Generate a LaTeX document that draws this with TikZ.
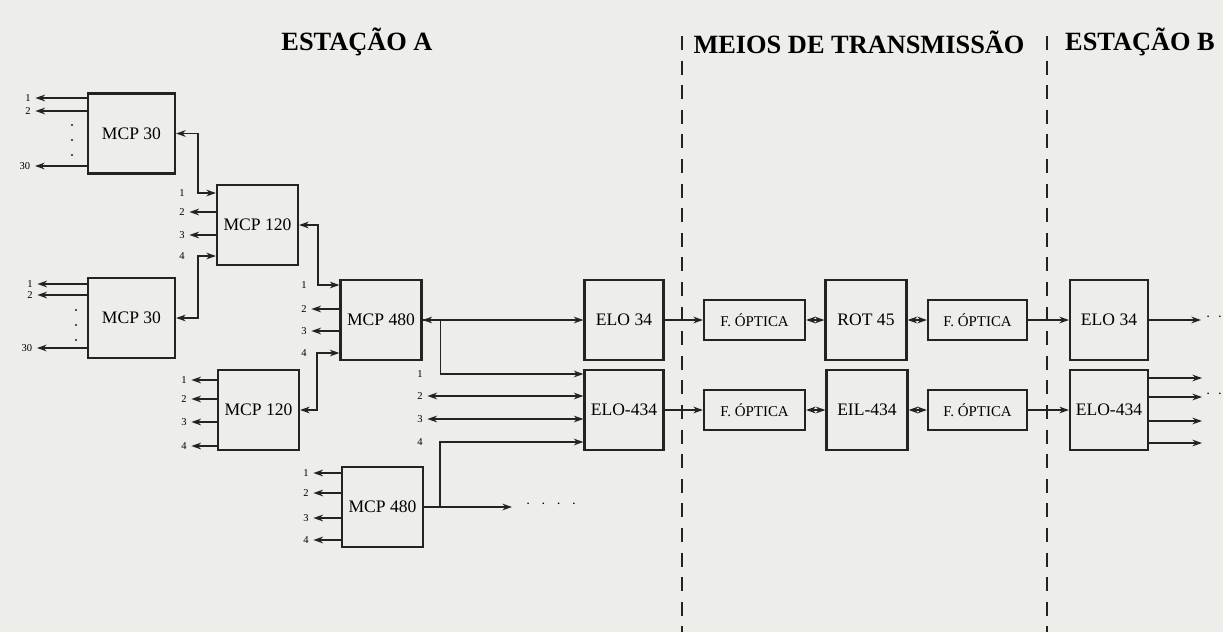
\documentclass[tikz,border=0pt]{standalone}
\usepackage{fontspec}
\setmainfont{Liberation Serif}
\usetikzlibrary{arrows.meta}
\definecolor{paper}{RGB}{237,237,233}
\definecolor{ink}{RGB}{35,35,35}

\begin{document}
\begin{tikzpicture}[
			x=0.02cm, y=-0.02cm,
			box/.style={
				rectangle,
				draw=ink,
				line width=1.2pt,
				minimum width=1.62cm,
				minimum height=1.6cm,
				inner sep=0pt,
				align=center,
				font=\fontsize{10}{12}\selectfont
			},
			fibre/.style={
				box,
				minimum width=2.02cm,
				minimum height=0.8cm,
				font=\fontsize{8.5}{10}\selectfont
			},
			num/.style={
				inner sep=0.5pt,
				font=\fontsize{6}{7}\selectfont
			},
			title/.style={
				font=\fontsize{15}{18}\selectfont\bfseries
			},
			feed/.style={
				-{Stealth[length=5.5pt,width=3.8pt]},
				draw=ink,
				line width=0.9pt
			},
			link/.style={
				{Stealth[length=5.5pt,width=3.8pt]}-{Stealth[length=5.5pt,width=3.8pt]},
				draw=ink,
				line width=0.9pt
			},
			chan/.style={
				feed,
				shorten >=2pt
			},
			border/.style={
				draw=ink,
				line width=0.7pt,
				dash pattern=on 8pt off 6pt
			}
			]
			
			\fill [paper, use as bounding box] (0,0) rectangle (1223,632);
			
			\node (titA) [title] at (357,42) {ESTAÇÃO A};
			\node (titM) [title] at (859,42) {MEIOS DE TRANSMISSÃO};
			\node (titB) [title, anchor=east] at (1221,42) {ESTAÇÃO B};
			
			\coordinate (sepA) at (682,36);
			\coordinate (sepAend) at (682,632);
			\coordinate (sepB) at (1047,36);
			\coordinate (sepBend) at (1047,632);
			\draw [border] (sepA) -- (sepAend);
			\draw [border] (sepB) -- (sepBend);
			
			\node (mcp30a) [box, minimum width=1.74cm] at (131.5,133.5) {MCP 30};
			\node (mcp120a) [box] at (257.5,225) {MCP 120};
			\node (mcp30b) [box, minimum width=1.74cm] at (131.5,318) {MCP 30};
			\node (mcp480a) [box] at (381,320) {MCP 480};
			\node (mcp120b) [box] at (258.5,410) {MCP 120};
			\node (mcp480b) [box] at (382.5,507) {MCP 480};
			\node (eloA) [box, minimum width=1.58cm] at (624,320) {ELO 34};
			\node (eloqA) [box, minimum width=1.58cm] at (624,410) {ELO-434};
			\node (fibA1) [fibre] at (754.5,320) {F. ÓPTICA};
			\node (rot) [box] at (866,320) {ROT 45};
			\node (fibA2) [fibre, minimum width=1.98cm] at (977.5,320) {F. ÓPTICA};
			\node (fibB1) [fibre] at (754.5,410) {F. ÓPTICA};
			\node (eil) [box] at (867,410) {EIL-434};
			\node (fibB2) [fibre, minimum width=1.98cm] at (977.5,410) {F. ÓPTICA};
			\node (eloB) [box, minimum width=1.56cm] at (1109,320) {ELO 34};
			\node (eloqB) [box, minimum width=1.56cm] at (1109,410) {ELO-434};
			
			\node (a30n1) [num] at (28,98) {1};
			\node (a30n2) [num] at (28,111) {2};
			\node (a30n30) [num] at (25,166) {30};
			\node (b30n1) [num] at (30,284) {1};
			\node (b30n2) [num] at (30,295) {2};
			\node (b30n30) [num] at (27,348) {30};
			\draw [chan] (mcp30a.west |- a30n1) -- (a30n1);
			\draw [chan] (mcp30a.west |- a30n2) -- (a30n2);
			\draw [chan] (mcp30a.west |- a30n30) -- (a30n30);
			\draw [chan] (mcp30b.west |- b30n1) -- (b30n1);
			\draw [chan] (mcp30b.west |- b30n2) -- (b30n2);
			\draw [chan] (mcp30b.west |- b30n30) -- (b30n30);
			\fill [ink] (72,125) circle (0.6pt) (72,140) circle (0.6pt) (72,155) circle (0.6pt);
			\fill [ink] (76,310) circle (0.6pt) (76,325) circle (0.6pt) (76,340) circle (0.6pt);
			
			\node (a120n1) [num] at (182,193) {1};
			\node (a120n2) [num] at (182,212) {2};
			\node (a120n3) [num] at (182,235) {3};
			\node (a120n4) [num] at (182,256) {4};
			\draw [link] (mcp30a.east) -- ++(22,0) |- (mcp120a.west |- a120n1);
			\draw [chan] (mcp120a.west |- a120n2) -- (a120n2);
			\draw [chan] (mcp120a.west |- a120n3) -- (a120n3);
			\draw [link] (mcp30b.east) -- ++(22,0) |- (mcp120a.west |- a120n4);
			
			\node (b120n1) [num] at (184,380) {1};
			\node (b120n2) [num] at (184,399) {2};
			\node (b120n3) [num] at (184,422) {3};
			\node (b120n4) [num] at (184,446) {4};
			\draw [chan] (mcp120b.west |- b120n1) -- (b120n1);
			\draw [chan] (mcp120b.west |- b120n2) -- (b120n2);
			\draw [chan] (mcp120b.west |- b120n3) -- (b120n3);
			\draw [chan] (mcp120b.west |- b120n4) -- (b120n4);
			
			\node (a480n1) [num] at (304,285) {1};
			\node (a480n2) [num] at (304,309) {2};
			\node (a480n3) [num] at (304,331) {3};
			\node (a480n4) [num] at (304,353) {4};
			\draw [link] (mcp120a.east) -- ++(19,0) |- (mcp480a.west |- a480n1);
			\draw [chan] (mcp480a.west |- a480n2) -- (a480n2);
			\draw [chan] (mcp480a.west |- a480n3) -- (a480n3);
			\draw [link] (mcp120b.east) -- ++(17,0) |- (mcp480a.west |- a480n4);
			
			\node (b480n1) [num] at (306,473) {1};
			\node (b480n2) [num] at (306,493) {2};
			\node (b480n3) [num] at (306,518) {3};
			\node (b480n4) [num] at (306,540) {4};
			\draw [chan] (mcp480b.west |- b480n1) -- (b480n1);
			\draw [chan] (mcp480b.west |- b480n2) -- (b480n2);
			\draw [chan] (mcp480b.west |- b480n3) -- (b480n3);
			\draw [chan] (mcp480b.west |- b480n4) -- (b480n4);
			
			\node (q434n1) [num] at (420,374) {1};
			\node (q434n2) [num] at (420,396) {2};
			\node (q434n3) [num] at (420,419) {3};
			\node (q434n4) [num] at (420,442) {4};
			\draw [link] (mcp480a.east) -- (eloA.west);
			\draw [feed] (mcp480a.east) -- ++(18,0) |- (eloqA.west |- q434n1);
			\draw [link, shorten >=2pt] (eloqA.west |- q434n2) -- (q434n2);
			\draw [link, shorten >=2pt] (eloqA.west |- q434n3) -- (q434n3);
			\draw [feed] (mcp480b.east) -- ++(16,0) |- (eloqA.west |- q434n4);
			\coordinate (more480) at (512,507);
			\draw [feed] (mcp480b.east) -- (more480);
			\node (dots480) [num, font=\fontsize{8}{9}\selectfont] at (551,506) {·\hspace{6pt}·\hspace{6pt}·\hspace{6pt}·};
			
			\draw [feed] (eloA.east) -- (fibA1.west);
			\draw [link] (fibA1.east) -- (rot.west);
			\draw [link] (rot.east) -- (fibA2.west);
			\draw [feed] (fibA2.east) -- (eloB.west);
			\draw [feed] (eloqA.east) -- (fibB1.west);
			\draw [link] (fibB1.east) -- (eil.west);
			\draw [link] (eil.east) -- (fibB2.west);
			\draw [feed] (fibB2.east) -- (eloqB.west);
			
			\coordinate (outB) at (1201,320);
			\coordinate (outq1) at (1202,378);
			\coordinate (outq2) at (1202,397);
			\coordinate (outq3) at (1202,421);
			\coordinate (outq4) at (1202,443);
			\draw [feed] (eloB.east) -- (outB);
			\draw [feed] (eloqB.east |- outq1) -- (outq1);
			\draw [feed] (eloqB.east |- outq2) -- (outq2);
			\draw [feed] (eloqB.east |- outq3) -- (outq3);
			\draw [feed] (eloqB.east |- outq4) -- (outq4);
			\node (dotsB) [num, font=\fontsize{8}{9}\selectfont] at (1214,319) {·\hspace{4pt}·};
			\node (dotsq) [num, font=\fontsize{8}{9}\selectfont] at (1214,396) {·\hspace{4pt}·};
			
		\end{tikzpicture}
\end{document}
